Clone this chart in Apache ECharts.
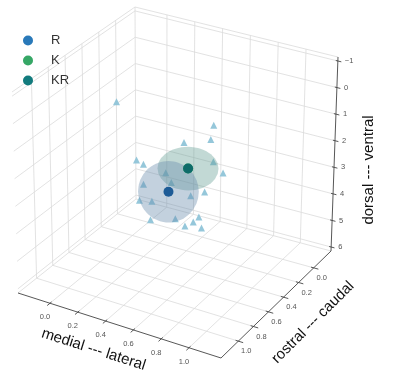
<!DOCTYPE html>
<html>
<head>
<meta charset="utf-8">
<script src="https://cdn.jsdelivr.net/npm/echarts@6/dist/echarts.min.js"></script>
<style>
html, body { margin: 0; padding: 0; background: #fff; }
#main { width: 393px; height: 387px; }
</style>
</head>
<body>
<div id="main"></div>
<script>
// ---- data (medial-lateral, rostral-caudal, dorsal-ventral) ----
var xTicks = [0.0, 0.2, 0.4, 0.6, 0.8, 1.0];
var yTicks = [0.0, 0.2, 0.4, 0.6, 0.8, 1.0];
var zTicks = [-1, 0, 1, 2, 3, 4, 5, 6];
var xLim = [-0.23, 1.23];
var yLim = [-0.23, 1.23];
var zLim = [-1.15, 6.15];

var triX = [0.76, 0.74, 0.55, 0.21, 0.26, 0.76, 0.83, 0.42, 0.46, 0.26, 0.70,
            0.60, 0.23, 0.32, 0.66, 0.31, 0.49, 0.62, 0.56, 0.68, 0.07];
var triY = [0.5, 0.5, 0.5, 0.5, 0.5, 0.5, 0.5, 0.5, 0.5, 0.5, 0.5,
            0.5, 0.5, 0.5, 0.5, 0.5, 0.5, 0.5, 0.5, 0.5, 0.5];
var triZ = [0.23, 0.79, 1.17, 2.31, 2.40, 1.58, 1.89, 2.48, 2.78, 3.14, 2.78,
            3.07, 3.77, 3.68, 3.76, 4.38, 4.08, 4.01, 4.24, 4.14, 0.36];

var rCenter = [0.44, 0.5, 3.15];
var kCenter = [0.58, 0.5, 2.09];
var krCenter = [0.58, 0.5, 2.09];
var rRadius = [0.19, 0.19, 1.0];
var krRadius = [0.19, 0.19, 0.6];

var axisTitles = ['medial --- lateral', 'rostral --- caudal', 'dorsal --- ventral'];

// ---- fake 3d box: screen position of the 8 box corners (u v w bits) ----
var boxCorners = {
	'000': [135, 7], '100': [338, 57], '010': [12, 92], '110': [224, 155],
	'001': [136, 199], '101': [331, 251], '011': [18, 293], '111': [221, 358]
};

function project(x, y, z) {
	var u = (x - xLim[0]) / (xLim[1] - xLim[0]);
	var v = (y - yLim[0]) / (yLim[1] - yLim[0]);
	var w = (z - zLim[0]) / (zLim[1] - zLim[0]);
	var out = [0, 0];
	for (var i = 0; i < 2; i++) {
		for (var j = 0; j < 2; j++) {
			for (var k = 0; k < 2; k++) {
				var wt = (i ? u : 1 - u) * (j ? v : 1 - v) * (k ? w : 1 - w);
				var c = boxCorners['' + i + j + k];
				out[0] += wt * c[0];
				out[1] += wt * c[1];
			}
		}
	}
	return out;
}

function seg(a, b) {
	var p = project(a[0], a[1], a[2]);
	var q = project(b[0], b[1], b[2]);
	return [p[0], p[1], q[0], q[1]];
}

var x0 = xLim[0], x1 = xLim[1], y0 = yLim[0], y1 = yLim[1], z0 = zLim[0], z1 = zLim[1];

// grid lines on the three back panes
var gridSegs = [];
xTicks.forEach(function(x) {
	gridSegs.push(seg([x, y0, z1], [x, y1, z1]));
	gridSegs.push(seg([x, y0, z0], [x, y0, z1]));
});
yTicks.forEach(function(y) {
	gridSegs.push(seg([x0, y, z1], [x1, y, z1]));
	gridSegs.push(seg([x0, y, z0], [x0, y, z1]));
});
zTicks.forEach(function(z) {
	gridSegs.push(seg([x0, y0, z], [x1, y0, z]));
	gridSegs.push(seg([x0, y0, z], [x0, y1, z]));
});
gridSegs.push(seg([x0, y0, z0], [x1, y0, z0]));
gridSegs.push(seg([x0, y0, z0], [x0, y1, z0]));
gridSegs.push(seg([x0, y0, z0], [x0, y0, z1]));
gridSegs.push(seg([x0, y0, z1], [x1, y0, z1]));
gridSegs.push(seg([x0, y0, z1], [x0, y1, z1]));

// axis lines and tick marks
var axisSegs = [];
axisSegs.push(seg([x0, y1, z1], [x1, y1, z1]));
axisSegs.push(seg([x1, y0, z1], [x1, y1, z1]));
axisSegs.push(seg([x1, y0, z0], [x1, y0, z1]));
xTicks.forEach(function(x) { axisSegs.push(seg([x, y1 - 0.02, z1], [x, y1 + 0.035, z1])); });
yTicks.forEach(function(y) { axisSegs.push(seg([x1 - 0.02, y, z1], [x1 + 0.035, y, z1])); });
zTicks.forEach(function(z) { axisSegs.push(seg([x1 - 0.015, y0, z], [x1 + 0.025, y0, z])); });

// texts: [sx, sy, text, size, rotation, align, color]
var texts = [];
xTicks.forEach(function(x) {
	var p = project(x, y1, z1);
	texts.push([p[0] - 5, p[1] + 14, x.toFixed(1), 7.5, 0, 'center', '#555']);
});
yTicks.forEach(function(y) {
	var p = project(x1, y, z1);
	texts.push([p[0] + 8, p[1] + 10, y.toFixed(1), 7.5, 0, 'center', '#555']);
});
zTicks.forEach(function(z) {
	var p = project(x1, y0, z);
	texts.push([p[0] + 7, p[1], z < 0 ? '\u2212' + (-z) : String(z), 7.5, 0, 'left', '#555']);
});
var tx = project(0.5, y1, z1);
texts.push([tx[0] - 26, tx[1] + 24, axisTitles[0], 15, -0.31, 'center', '#111']);
var ty = project(x1, 0.5, z1);
texts.push([ty[0] + 37, ty[1] + 18, axisTitles[1], 15, Math.PI / 4, 'center', '#111']);
var tz = project(x1, y0, 2.5);
texts.push([tz[0] + 34, tz[1] + 16, axisTitles[2], 15, Math.PI / 2, 'center', '#111']);

// ellipsoid outline = convex hull of projected surface samples
function convexHull(pts) {
	pts = pts.slice().sort(function(a, b) { return a[0] - b[0] || a[1] - b[1]; });
	function cross(o, a, b) { return (a[0] - o[0]) * (b[1] - o[1]) - (a[1] - o[1]) * (b[0] - o[0]); }
	var lower = [], upper = [];
	pts.forEach(function(p) {
		while (lower.length >= 2 && cross(lower[lower.length - 2], lower[lower.length - 1], p) <= 0) lower.pop();
		lower.push(p);
	});
	for (var i = pts.length - 1; i >= 0; i--) {
		var p = pts[i];
		while (upper.length >= 2 && cross(upper[upper.length - 2], upper[upper.length - 1], p) <= 0) upper.pop();
		upper.push(p);
	}
	upper.pop(); lower.pop();
	return lower.concat(upper);
}
function ellipsoidHull(c, r) {
	var pts = [];
	for (var i = 0; i <= 18; i++) {
		var th = Math.PI * i / 18;
		for (var j = 0; j < 36; j++) {
			var ph = 2 * Math.PI * j / 36;
			pts.push(project(c[0] + r[0] * Math.sin(th) * Math.cos(ph),
				c[1] + r[1] * Math.sin(th) * Math.sin(ph),
				c[2] + r[2] * Math.cos(th)));
		}
	}
	return convexHull(pts);
}
var spheres = [
	{ hull: ellipsoidHull(krCenter, krRadius), fill: 'rgba(95,155,145,0.38)' },
	{ hull: ellipsoidHull(rCenter, rRadius), fill: 'rgba(105,140,172,0.4)' }
];

var triData = triX.map(function(x, i) { return project(x, triY[i], triZ[i]); });

function segRender(color, width) {
	return function(params, api) {
		var p = api.coord([api.value(0), api.value(1)]);
		var q = api.coord([api.value(2), api.value(3)]);
		return {
			type: 'line',
			shape: { x1: p[0], y1: p[1], x2: q[0], y2: q[1] },
			style: { stroke: color, lineWidth: width }
		};
	};
}

var font = '"Liberation Sans", Arial, sans-serif';

var myChart = echarts.init(document.getElementById('main'), null, { renderer: 'canvas' });

var option = {
	animation: false,
	backgroundColor: '#fff',
	grid: { left: 0, right: 0, top: 0, bottom: 0 },
	xAxis: { type: 'value', min: 0, max: 393, show: false },
	yAxis: { type: 'value', min: 0, max: 387, inverse: true, show: false },
	legend: {
		orient: 'vertical',
		left: 18,
		top: 29,
		icon: 'circle',
		itemWidth: 32,
		itemHeight: 10,
		itemGap: 7,
		selectedMode: false,
		textStyle: { fontSize: 13, color: '#333', fontFamily: font, padding: [0, 0, 0, 2] },
		data: [
			{ name: 'R', itemStyle: { color: '#2979b9', opacity: 1 } },
			{ name: 'K', itemStyle: { color: '#36a766', opacity: 1 } },
			{ name: 'KR', itemStyle: { color: '#127b7d', opacity: 1 } }
		]
	},
	series: [{
			type: 'custom',
			name: 'grid',
			z: 1,
			silent: true,
			clip: false,
			renderItem: segRender('#dadada', 0.8),
			encode: { x: [0, 2], y: [1, 3] },
			data: gridSegs
		}, {
			type: 'custom',
			name: 'axes',
			z: 2,
			silent: true,
			clip: false,
			renderItem: segRender('#444', 0.9),
			encode: { x: [0, 2], y: [1, 3] },
			data: axisSegs
		}, {
			type: 'custom',
			name: 'texts',
			z: 2,
			silent: true,
			clip: false,
			renderItem: function(params, api) {
				var t = texts[params.dataIndex];
				var p = api.coord([t[0], t[1]]);
				return {
					type: 'text',
					x: p[0],
					y: p[1],
					rotation: t[4],
					style: {
						text: t[2],
						fill: t[6],
						fontSize: t[3],
						fontFamily: font,
						align: t[5],
						verticalAlign: 'middle'
					}
				};
			},
			encode: { x: 0, y: 1 },
			data: texts.map(function(t) { return [t[0], t[1]]; })
		}, {
			type: 'scatter',
			name: 'points',
			z: 3,
			symbol: 'triangle',
			symbolSize: 7,
			itemStyle: { color: '#8fc4d8', opacity: 0.95 },
			data: triData
		}, {
			type: 'custom',
			name: 'spheres',
			z: 4,
			silent: true,
			clip: false,
			renderItem: function(params, api) {
				var s = spheres[params.dataIndex];
				var pts = s.hull.map(function(p) { return api.coord(p); });
				return {
					type: 'polygon',
					shape: { points: pts },
					style: { fill: s.fill, stroke: null }
				};
			},
			encode: { x: 0, y: 1 },
			data: [project(krCenter[0], krCenter[1], krCenter[2]), project(rCenter[0], rCenter[1], rCenter[2])]
		}, {
			type: 'scatter',
			name: 'R',
			z: 5,
			symbolSize: 10,
			itemStyle: { color: '#1d5b96', opacity: 1 },
			data: [project(rCenter[0], rCenter[1], rCenter[2])]
		}, {
			type: 'scatter',
			name: 'K',
			z: 5,
			symbolSize: 10,
			itemStyle: { color: '#36a766', opacity: 1 },
			data: [project(kCenter[0], kCenter[1], kCenter[2])]
		}, {
			type: 'scatter',
			name: 'KR',
			z: 6,
			symbolSize: 10,
			itemStyle: { color: '#0e6b69', opacity: 1 },
			data: [project(krCenter[0], krCenter[1], krCenter[2])]
		}
	]
};

myChart.setOption(option, true);
</script>
</body>
</html>
